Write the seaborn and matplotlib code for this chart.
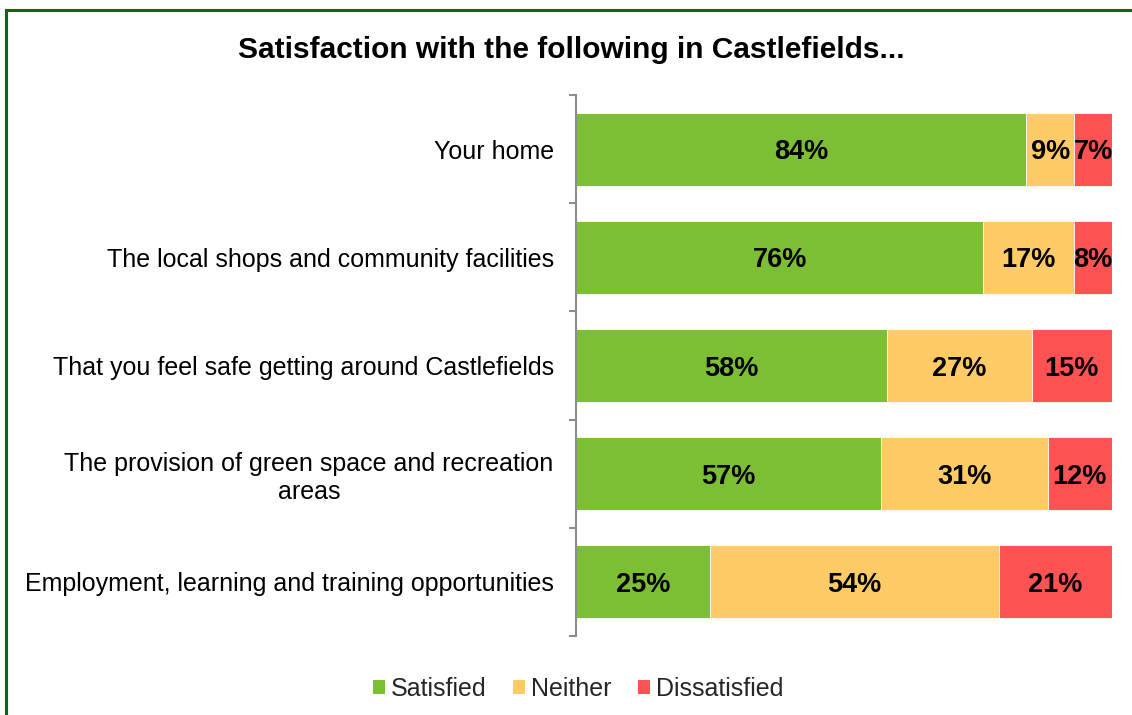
import matplotlib
matplotlib.use("Agg")
import matplotlib.pyplot as plt
from matplotlib.patches import Patch, Rectangle
import numpy as np
import pandas as pd
import seaborn as sns

categories = [
    "Your home",
    "The local shops and community facilities",
    "That you feel safe getting around Castlefields",
    "The provision of green space and recreation\nareas",
    "Employment, learning and training opportunities",
]
satisfied = [84, 76, 58, 57, 25]
neither = [9, 17, 27, 31, 54]
dissatisfied = [7, 8, 15, 12, 21]

series_names = ["Satisfied", "Neither", "Dissatisfied"]
colors = ["#7DBF34", "#FFCB66", "#FF5252"]

sns.set_theme(style="white")
plt.rcParams["font.family"] = ["Liberation Sans", "DejaVu Sans"]

df = pd.DataFrame({
    "category": categories,
    "Satisfied": satisfied,
    "Neither": neither,
    "Dissatisfied": dissatisfied,
})
df["cum_sat"] = df["Satisfied"]
df["cum_nei"] = df["Satisfied"] + df["Neither"]
df["cum_dis"] = df["cum_nei"] + df["Dissatisfied"]

fig = plt.figure(figsize=(11.32, 7.15), dpi=100)
ax = fig.add_axes([0.5088, 0.1105, 0.4735, 0.7566])

# stacked bars: draw cumulative totals from the widest down
for col, color in zip(["cum_dis", "cum_nei", "cum_sat"], colors[::-1]):
    sns.barplot(data=df, y="category", x=col, color=color, orient="h",
                width=0.675, edgecolor="white", linewidth=0.6, ax=ax,
                saturation=1)

ax.set_xlim(0, 100)
ax.set_ylim(4.5, -0.5)
ax.set_xlabel("")
ax.set_ylabel("")
ax.set_xticks([])

# segment value labels, digits centred on the bar, kept inside the range
for i, row in df.iterrows():
    starts = [0, row["cum_sat"], row["cum_nei"]]
    vals = [row["Satisfied"], row["Neither"], row["Dissatisfied"]]
    for s, v in zip(starts, vals):
        end = min(s + v, 100)
        ax.annotate(f"{v}%", xy=((s + end) / 2, i), xytext=(0, -7.3),
                    textcoords="offset points", ha="center", va="baseline",
                    fontsize=19.5, fontweight="bold", color="black")

for side in ["top", "right", "bottom"]:
    ax.spines[side].set_visible(False)
ax.spines["left"].set_color("#8C8C8C")
ax.spines["left"].set_linewidth(1.5)

ax.set_yticks(np.arange(-0.5, 5.0, 1.0), minor=True)
ax.tick_params(axis="y", which="minor", left=True, length=5, width=1.5,
               color="#8C8C8C")
ax.tick_params(axis="y", which="major", left=False, length=0, pad=16,
               labelsize=18, labelcolor="black")
for lbl in ax.get_yticklabels():
    lbl.set_multialignment("center")
    lbl.set_linespacing(1.18)

fig.text(0.505, 0.9305, "Satisfaction with the following in Castlefields...",
         ha="center", va="center", fontsize=21.5, fontweight="bold",
         color="black")

handles = [Patch(facecolor=c, edgecolor="none", label=n)
           for c, n in zip(colors, series_names)]
fig.legend(handles=handles, loc="center", bbox_to_anchor=(0.5105, 0.037),
           ncol=3, frameon=False, fontsize=18, handlelength=0.5,
           handleheight=0.5, handletextpad=0.22, columnspacing=1.05)

# outer border of the chart area
fig.patches.append(Rectangle((6 / 1132, -0.05), 1.2, 1 - 10 / 715 + 0.05,
                             transform=fig.transFigure, fill=False,
                             edgecolor="#0E6614", linewidth=2.2))

fig.savefig("out.png", dpi=100, facecolor="white")
